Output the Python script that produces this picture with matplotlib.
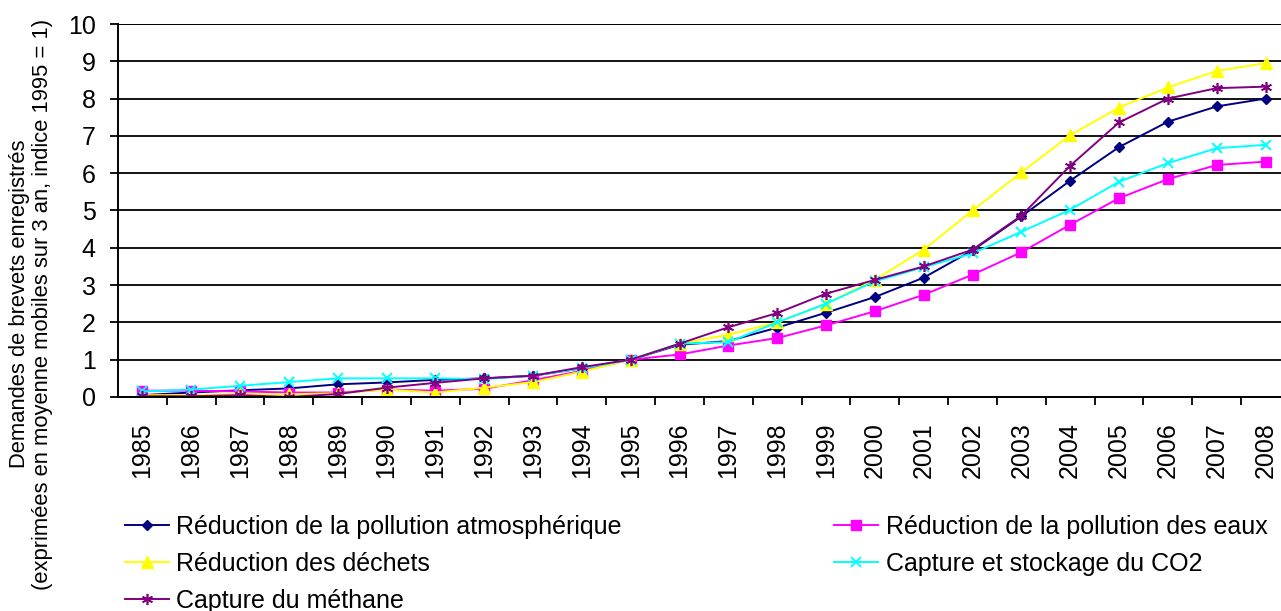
import matplotlib
matplotlib.use("Agg")
import matplotlib.pyplot as plt

plt.rcParams['font.family'] = ['Liberation Sans', 'DejaVu Sans']

# indices des demandes de brevets (base 1995 = 1)
annees = list(range(1985, 2009))
atmo = [0.05, 0.12, 0.18, 0.23, 0.34, 0.39, 0.46, 0.5, 0.57, 0.77, 1.0, 1.4, 1.5, 1.86, 2.26,
        2.68, 3.2, 3.93, 4.84, 5.8, 6.7, 7.38, 7.79, 8.0]
eaux = [0.17, 0.17, 0.15, 0.12, 0.12, 0.2, 0.17, 0.22, 0.45, 0.7, 1.0, 1.14, 1.38, 1.58, 1.92,
        2.3, 2.74, 3.28, 3.88, 4.62, 5.33, 5.84, 6.22, 6.31]
dechets = [0.05, 0.05, 0.08, 0.07, 0.1, 0.2, 0.12, 0.25, 0.4, 0.68, 1.0, 1.43, 1.67, 2.0, 2.5,
           3.14, 3.95, 5.0, 6.02, 7.02, 7.76, 8.3, 8.74, 8.95]
co2 = [0.15, 0.2, 0.3, 0.4, 0.5, 0.5, 0.5, 0.48, 0.57, 0.77, 1.0, 1.43, 1.47, 2.0, 2.5,
       3.1, 3.48, 3.85, 4.43, 5.02, 5.77, 6.27, 6.67, 6.76]
methane = [0.02, 0.02, 0.05, 0.0, 0.08, 0.25, 0.38, 0.5, 0.57, 0.8, 1.0, 1.43, 1.87, 2.25, 2.77,
           3.14, 3.5, 3.95, 4.86, 6.2, 7.36, 8.0, 8.28, 8.32]

fig = plt.figure(figsize=(12.81, 6.11), dpi=100)
ax = fig.add_axes([118 / 1281, 1 - 397 / 611, 24 * 48.83 / 1281, 373 / 611])

l_atmo, = ax.plot(annees, atmo, color='#000080', marker='D', markersize=5, lw=1.4)
l_eaux, = ax.plot(annees, eaux, color='#FF00FF', marker='s', markersize=7, lw=1.4)
l_dech, = ax.plot(annees, dechets, color='#FFFF00', marker='^', markersize=8, lw=1.4)
l_co2, = ax.plot(annees, co2, color='#00FFFF', marker='x', markersize=7, mew=1.4, lw=1.4)
l_meth, = ax.plot(annees, methane, color='#800080', marker=(6, 2, 0), markersize=8, mew=1.2, lw=1.4)

ax.set_xlim(1984.5, 2008.5)
ax.set_ylim(0, 10)
ax.set_yticks(range(0, 11))
ax.set_xticks(annees)
ax.set_xticks([a + 0.5 for a in annees[:-1]], minor=True)
ax.set_xticklabels([str(a) for a in annees], rotation=90, fontsize=18)
ax.tick_params(axis='x', which='major', length=0, pad=18)
ax.tick_params(axis='x', which='minor', length=6, width=1.3, direction='out')
ax.tick_params(axis='y', length=6, width=1.3, labelsize=18, pad=10)

ax.grid(axis='y', color='black', lw=1.3)
ax.set_axisbelow(True)
ax.axhline(10, color='black', lw=1.3)
for s in ['top', 'right']:
    ax.spines[s].set_visible(False)
for s in ['left', 'bottom']:
    ax.spines[s].set_linewidth(1.4)

fig.text(31 / 1281, 1 - 304 / 611,
         'Demandes de brevets enregistrés\n(exprimées en moyenne mobiles sur 3 an, indice 1995 = 1)',
         rotation=90, ha='center', va='center', fontsize=15.8, linespacing=1.15,
         multialignment='center')

fig.legend([l_atmo, l_dech, l_meth, l_eaux, l_co2],
           ['Réduction de la pollution atmosphérique', 'Réduction des déchets', 'Capture du méthane',
            'Réduction de la pollution des eaux', 'Capture et stockage du CO2'],
           ncol=2, loc='upper left', bbox_to_anchor=(125 / 1281, 1 - 515 / 611),
           frameon=False, fontsize=18, handlelength=1.75, handletextpad=0.3,
           labelspacing=0.52, columnspacing=8.5, borderpad=0, borderaxespad=0)

fig.savefig('out.png', dpi=100)
